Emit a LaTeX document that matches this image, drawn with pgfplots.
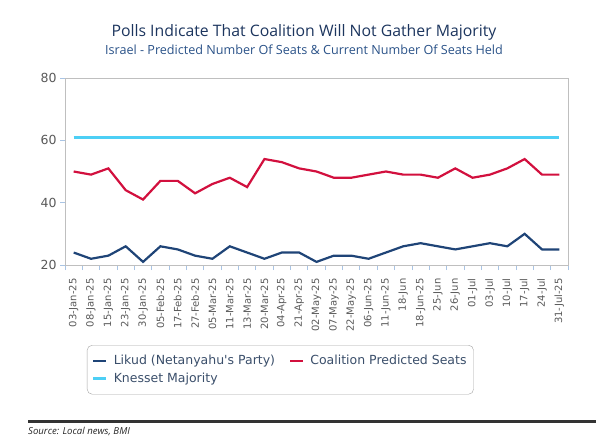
\documentclass[border=0pt]{standalone}
\usepackage{fontspec}
\setmainfont{DejaVu Sans}
\newfontfamily\titlefont{Open Sans}
\usepackage{pgfplots}
\pgfplotsset{compat=1.18}
\definecolor{likud}{HTML}{1F4477}
\definecolor{coal}{HTML}{D2103E}
\definecolor{kness}{HTML}{4DCFF5}
\definecolor{ticklbl}{HTML}{595959}
\definecolor{axgray}{HTML}{BFBFBF}
\definecolor{tickblue}{HTML}{A9C4E4}
\definecolor{legtext}{HTML}{3B4F6B}
\definecolor{titlecol}{HTML}{1C355E}
\definecolor{subcol}{HTML}{2A5288}
\begin{document}
\begin{tikzpicture}[x=1pt,y=1pt]
\useasboundingbox (0,0) rectangle (596,445);
\node[font=\titlefont\fontsize{15.8}{18}\selectfont, text=titlecol] at (304,413) {Polls Indicate That Coalition Will Not Gather Majority};
\node[font=\titlefont\fontsize{12.6}{14}\selectfont, text=subcol] at (304,395) {Israel - Predicted Number Of Seats \& Current Number Of Seats Held};
\begin{axis}[at={(65pt,180pt)}, anchor=south west, scale only axis,
  width=503pt, height=187pt,
  xmin=-0.5, xmax=28.5, ymin=20, ymax=80,
  ytick={20,40,60,80},
  xtick={0,...,28},
  xticklabels={03-Jan-25,08-Jan-25,15-Jan-25,23-Jan-25,30-Jan-25,05-Feb-25,17-Feb-25,27-Feb-25,05-Mar-25,11-Mar-25,13-Mar-25,20-Mar-25,04-Apr-25,21-Apr-25,02-May-25,07-May-25,22-May-25,06-Jun-25,11-Jun-25,18-Jun,18-Jun-25,25-Jun,26-Jun,01-Jul,03-Jul,10-Jul,17-Jul,24-Jul,31-Jul-25},
  minor xtick={-0.5,0.5,...,28.5},
  major x tick style={draw=none},
  xtick pos=bottom, ytick pos=left,
  tick align=outside,
  major tick length=5pt, minor tick length=5pt,
  every tick/.style={tickblue, line width=0.8pt},
  minor tick style={tickblue, line width=0.8pt},
  axis line style={axgray, line width=0.8pt},
  /pgf/number format/assume math mode=true,
  xticklabel shift=5pt,
  x tick label style={rotate=90, anchor=east, font=\fontsize{10}{12}\selectfont, text=ticklbl},
  y tick label style={font=\fontsize{12.5}{15}\selectfont, text=ticklbl},
  legend columns=2,
  legend style={at={(0.0437,-0.428)}, anchor=north west, draw=gray!70, rounded corners=5pt,
    font=\fontsize{12.5}{15}\selectfont, text=legtext, inner xsep=5pt, inner ysep=8pt,
    row sep=3pt,
    /tikz/every odd column/.append style={column sep=4pt},
    /tikz/every even column/.append style={column sep=12pt}},
  legend cell align=left,
  legend image code/.code={\draw[#1] (0pt,0pt) -- (13pt,0pt);},
]
\addplot[likud, line width=2.2pt] coordinates {
(0,24)(1,22)(2,23)(3,26)(4,21)(5,26)(6,25)(7,23)(8,22)(9,26)(10,24)(11,22)(12,24)(13,24)(14,21)(15,23)(16,23)(17,22)(18,24)(19,26)(20,27)(21,26)(22,25)(23,26)(24,27)(25,26)(26,30)(27,25)(28,25)};
\addlegendentry{Likud (Netanyahu\textquotesingle s Party)}
\addplot[coal, line width=2.2pt] coordinates {
(0,50)(1,49)(2,51)(3,44)(4,41)(5,47)(6,47)(7,43)(8,46)(9,48)(10,45)(11,54)(12,53)(13,51)(14,50)(15,48)(16,48)(17,49)(18,50)(19,49)(20,49)(21,48)(22,51)(23,48)(24,49)(25,51)(26,54)(27,49)(28,49)};
\addlegendentry{Coalition Predicted Seats}
\addplot[kness, line width=2.6pt] coordinates {
(0,61)(1,61)(2,61)(3,61)(4,61)(5,61)(6,61)(7,61)(8,61)(9,61)(10,61)(11,61)(12,61)(13,61)(14,61)(15,61)(16,61)(17,61)(18,61)(19,61)(20,61)(21,61)(22,61)(23,61)(24,61)(25,61)(26,61)(27,61)(28,61)};
\addlegendentry{Knesset Majority}
\end{axis}
\draw[line width=3pt, black!80] (28,24) -- (596,24);
\node[anchor=west, font=\titlefont\itshape\fontsize{9.6}{11}\selectfont, text=black!85, inner sep=0pt] at (28,14) {Source: Local news, BMI};
\end{tikzpicture}
\end{document}
